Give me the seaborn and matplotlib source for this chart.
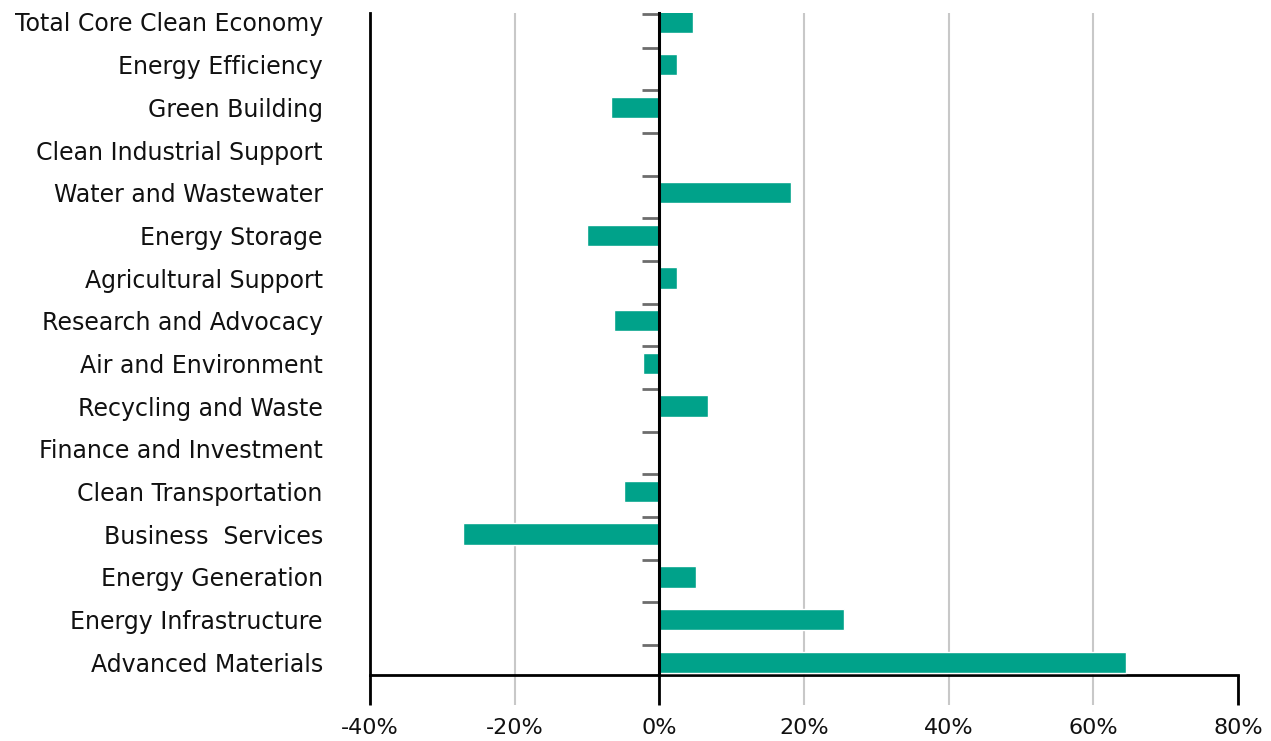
import matplotlib
matplotlib.use("Agg")
import matplotlib.pyplot as plt
import matplotlib.ticker as mticker
import matplotlib.transforms as mtransforms
import seaborn as sns
import pandas as pd

categories = [
    "Total Core Clean Economy",
    "Energy Efficiency",
    "Green Building",
    "Clean Industrial Support",
    "Water and Wastewater",
    "Energy Storage",
    "Agricultural Support",
    "Research and Advocacy",
    "Air and Environment",
    "Recycling and Waste",
    "Finance and Investment",
    "Clean Transportation",
    "Business  Services",
    "Energy Generation",
    "Energy Infrastructure",
    "Advanced Materials",
]
growth_pct = [4.7, 2.5, -6.7, 0.0, 18.2, -10.0, 2.5, -6.2, -2.2, 6.7,
              0.0, -4.9, -27.2, 5.0, 25.5, 64.5]
x_ticks = [-40, -20, 0, 20, 40, 60, 80]
black_ticks = [-40, 0, 80]

df = pd.DataFrame({"category": categories, "growth": growth_pct})

sns.set_theme(style="white")
plt.rcParams["font.family"] = ["DejaVu Sans"]

fig = plt.figure(figsize=(12.71, 7.41), dpi=100)
ax = fig.add_axes([370 / 1271, 1 - 675 / 741, (1238 - 370) / 1271, (675 - 13) / 741])

sns.barplot(data=df, x="growth", y="category", orient="h", color="#00A28A",
            saturation=1, width=0.5, ax=ax, zorder=3)

ax.set_xlim(-40, 80)
ax.set_ylim(15.3, -0.21)
ax.set_xlabel("")
ax.set_ylabel("")

ax.xaxis.set_major_locator(mticker.FixedLocator(x_ticks))
ax.xaxis.set_major_formatter(mticker.FuncFormatter(lambda v, p: f"{v:.0f}%"))
ax.tick_params(axis="x", bottom=True, direction="out", length=21.6, width=1.5,
               color="#C8C8C8", labelsize=16, pad=9, labelcolor="#111111")
ax.tick_params(axis="y", left=False, labelsize=17, pad=28, labelcolor="#111111")

ax.grid(axis="x", color="#C8C8C8", linewidth=1.5, zorder=0)
ax.grid(axis="y", visible=False)
ax.set_axisbelow(True)
for t, v in zip(ax.xaxis.get_major_ticks(), x_ticks):
    if v in black_ticks:
        t.gridline.set_visible(False)

# black extension lines below the axis at -40%, 0% and 80%
ext = 30 / 662
trans = mtransforms.blended_transform_factory(ax.transData, ax.transAxes)
ax.vlines(black_ticks, -ext, 0, transform=trans, colors="black", linewidth=2,
          clip_on=False, zorder=6)

for s in ["top", "right"]:
    ax.spines[s].set_visible(False)
for s in ["left", "bottom"]:
    ax.spines[s].set_color("black")
    ax.spines[s].set_linewidth(2)

# zero axis with category tick marks
zero_frac = (0 - (-40)) / (80 - (-40))
sec = ax.secondary_yaxis(zero_frac)
sec.set_yticks([max(i - 0.4, -0.19) for i in range(len(categories))])
sec.tick_params(axis="y", length=12, width=2, color="#6D6D6D", labelleft=False,
                labelright=False)
for s in sec.spines.values():
    s.set_color("black")
    s.set_linewidth(2.2)
sec.set_zorder(5)

fig.savefig("out.png", dpi=100)
